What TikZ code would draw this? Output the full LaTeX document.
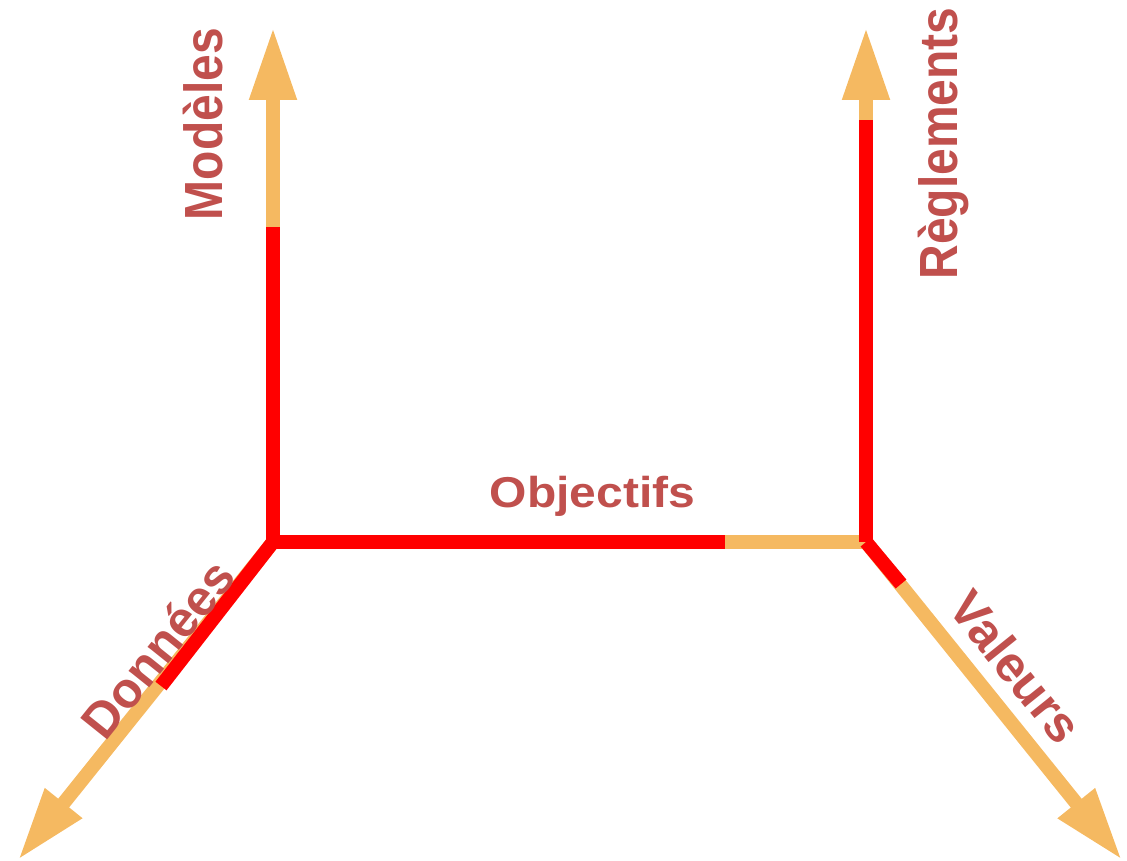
\documentclass[tikz,border=0pt]{standalone}
\usepackage{fontspec}
\setmainfont{Liberation Sans}
\usetikzlibrary{arrows.meta}
\definecolor{axorange}{HTML}{F5B961}
\definecolor{axred}{HTML}{FF0000}
\definecolor{lblred}{HTML}{C0504D}
\tikzset{
  axis/.style={draw=axorange, line width=14pt},
  axisarrow/.style={axis, -{Triangle[length=73pt,width=44pt]}},
  redpart/.style={draw=axred, line width=14pt},
  lbl/.style={text=lblred, font=\fontsize{48}{52}\selectfont\bfseries, inner sep=0pt, anchor=base},
}
\begin{document}
\begin{tikzpicture}[x=1pt,y=-1pt]
\useasboundingbox (0,0) rectangle (1127,861);
% origins and end points
\coordinate (O1) at (273,542);
\coordinate (O2) at (866,542);
\coordinate (tM) at (273,27);
\coordinate (tR) at (866,27);
\coordinate (tD) at (18,860);
\coordinate (tV) at (1122,860);
\coordinate (rM) at (273,227);
\coordinate (rR) at (866,120);
\coordinate (rO) at (725,542);
\coordinate (rD) at (161,686);
\coordinate (rV) at (901,584);
% orange axes
\draw[axisarrow] (O1) -- (tM);
\draw[axisarrow] (O2) -- (tR);
\draw[axisarrow] (O1) -- (tD);
\draw[axisarrow] (O2) -- (tV);
\draw[axis] (O1) -- (O2);
% red parts
\draw[redpart] (O1) -- (rM);
\draw[redpart] (O1) -- (rO);
\draw[redpart] (O2) -- (rR);
\draw[redpart] (O1) -- (rD);
\draw[redpart] (O2) -- (rV);
% labels
\node[lbl, rotate=90, yscale=1.12] (lM) at (222,124) {Modèles};
\node[lbl, rotate=90, yscale=1.12] (lR) at (957,143.5) {Règlements};
\node[lbl, yscale=0.9] (lO) at (592.5,507) {Objectifs};
\node[lbl, rotate=51.3, font=\fontsize{50}{54}\selectfont\bfseries] (lD) at (172,660) {Données};
\node[lbl, rotate=-51.3, font=\fontsize{50}{54}\selectfont\bfseries] (lV) at (1002,678) {Valeurs};
\end{tikzpicture}
\end{document}
